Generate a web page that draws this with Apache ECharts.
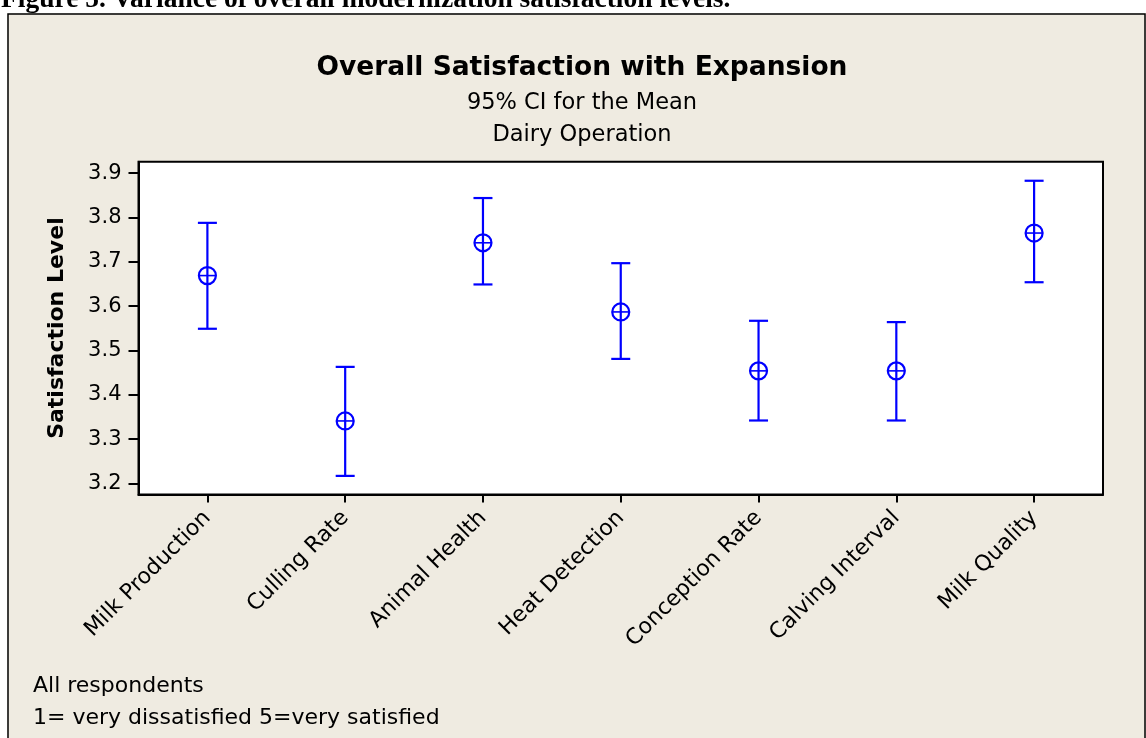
<!DOCTYPE html>
<html><head><meta charset="utf-8">
<script src="https://cdn.jsdelivr.net/npm/echarts@6/dist/echarts.min.js"></script>
<style>html,body{margin:0;padding:0;background:#fff}#c{width:1146px;height:738px}</style>
</head><body><div id="c"></div>
<script>
const categories = ['Milk Production','Culling Rate','Animal Health','Heat Detection','Conception Rate','Calving Interval','Milk Quality'];
const means   = [3.669, 3.341, 3.743, 3.587, 3.454, 3.454, 3.765];
const lowerCI = [3.549, 3.217, 3.649, 3.481, 3.342, 3.342, 3.654];
const upperCI = [3.788, 3.463, 3.844, 3.697, 3.567, 3.564, 3.883];
const yTicks  = [3.2, 3.3, 3.4, 3.5, 3.6, 3.7, 3.8, 3.9];

const FONT = 'DejaVu Sans';
const BLUE = '#0000FF';
const BG = '#EFEBE1';

function renderItem(params, api) {
  const i = api.value(0);
  const mid = api.coord([i, api.value(1)]);
  const bot = api.coord([i, api.value(2)]);
  const top = api.coord([i, api.value(3)]);
  const cw = 9.5, r = 8.5;
  const st = { stroke: BLUE, lineWidth: 2.2, fill: null };
  return {
    type: 'group',
    children: [
      { type: 'line', shape: { x1: top[0], y1: top[1], x2: bot[0], y2: bot[1] }, style: st },
      { type: 'line', shape: { x1: top[0] - cw, y1: top[1], x2: top[0] + cw, y2: top[1] }, style: st },
      { type: 'line', shape: { x1: bot[0] - cw, y1: bot[1], x2: bot[0] + cw, y2: bot[1] }, style: st },
      { type: 'circle', shape: { cx: mid[0], cy: mid[1], r: r }, style: { stroke: BLUE, lineWidth: 2.2, fill: 'rgba(0,0,0,0)' } },
      { type: 'line', shape: { x1: mid[0] - r, y1: mid[1], x2: mid[0] + r, y2: mid[1] }, style: { stroke: BLUE, lineWidth: 1.6 } }
    ]
  };
}

const chart = echarts.init(document.getElementById('c'), null, { renderer: 'canvas' });
chart.setOption({
  backgroundColor: BG,
  animation: false,
  grid: {
    left: 138.5, top: 161.7, width: 964.5, height: 332.8,
    show: true, backgroundColor: '#FFFFFF', borderColor: '#000000', borderWidth: 2
  },
  xAxis: {
    type: 'category',
    data: categories,
    boundaryGap: true,
    axisLine: { show: true, lineStyle: { color: '#000', width: 2 } },
    axisTick: { show: true, alignWithLabel: true, length: 8, lineStyle: { color: '#000', width: 2 } },
    axisLabel: { interval: 0, rotate: 45, margin: 20, color: '#000', fontFamily: FONT, fontSize: 22 },
    splitLine: { show: false }
  },
  yAxis: {
    type: 'value',
    min: 3.175, max: 3.926,
    name: 'Satisfaction Level',
    nameLocation: 'middle',
    nameRotate: 90,
    nameGap: 70,
    nameTextStyle: { color: '#000', fontFamily: FONT, fontSize: 22, fontWeight: 'bold' },
    axisLine: { show: true, lineStyle: { color: '#000', width: 2 } },
    axisTick: { show: true, length: 10, customValues: yTicks, lineStyle: { color: '#000', width: 2 } },
    axisLabel: { customValues: yTicks, margin: 17, color: '#000', fontFamily: FONT, fontSize: 21,
      formatter: v => v.toFixed(1) },
    splitLine: { show: false }
  },
  graphic: [
    { type: 'rect', z: 50, shape: { x: 0, y: 0, width: 1146, height: 13.3 }, style: { fill: '#FFFFFF' } },
    { type: 'rect', z: 50, shape: { x: 0, y: 0, width: 7.3, height: 738 }, style: { fill: '#FFFFFF' } },
    { type: 'polyline', z: 51, shape: { points: [[8, 740], [8, 14], [1145, 14], [1145, 740]] },
      style: { stroke: '#000', lineWidth: 1.5, fill: null } },
    { type: 'text', z: 52, x: 1, y: 0, style: { text: 'Figure 5. Variance of overall modernization satisfaction levels.',
      fontFamily: 'Liberation Serif', fontWeight: 'bold', fontSize: 27.5, fill: '#000', align: 'left', verticalAlign: 'middle' } },
    { type: 'text', z: 52, x: 582, y: 68, style: { text: 'Overall Satisfaction with Expansion',
      fontFamily: FONT, fontWeight: 'bold', fontSize: 26.5, fill: '#000', align: 'center', verticalAlign: 'middle' } },
    { type: 'text', z: 52, x: 582, y: 103.5, style: { text: '95% CI for the Mean',
      fontFamily: FONT, fontSize: 22.5, fill: '#000', align: 'center', verticalAlign: 'middle' } },
    { type: 'text', z: 52, x: 582, y: 135.5, style: { text: 'Dairy Operation',
      fontFamily: FONT, fontSize: 22.5, fill: '#000', align: 'center', verticalAlign: 'middle' } },
    { type: 'text', z: 52, x: 33, y: 686.5, style: { text: 'All respondents',
      fontFamily: FONT, fontSize: 22, fill: '#000', align: 'left', verticalAlign: 'middle' } },
    { type: 'text', z: 52, x: 33, y: 718.5, style: { text: '1= very dissatisfied 5=very satisfied',
      fontFamily: FONT, fontSize: 22, fill: '#000', align: 'left', verticalAlign: 'middle' } }
  ],
  series: [{
    type: 'custom',
    renderItem: renderItem,
    encode: { x: 0, y: [1, 2, 3] },
    data: categories.map((c, i) => [i, means[i], lowerCI[i], upperCI[i]]),
    clip: false,
    z: 10
  }]
});
</script>
</body></html>
